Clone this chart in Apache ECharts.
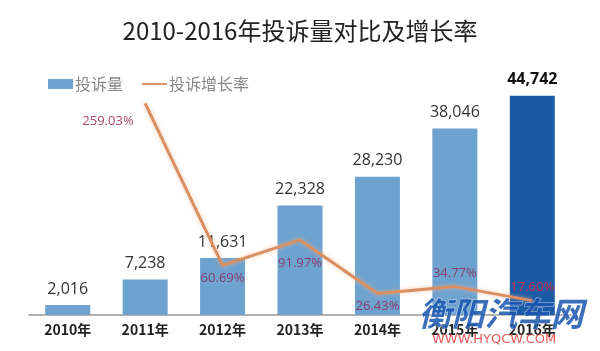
<!DOCTYPE html>
<html>
<head>
<meta charset="utf-8">
<script src="https://cdn.jsdelivr.net/npm/echarts@6/dist/echarts.min.js"></script>
<style>
  html, body { margin: 0; padding: 0; background: #fff; }
  #chart { width: 600px; height: 351px; }
</style>
</head>
<body>
<div id="chart"></div>
<script>
// data
var years = ['2010年', '2011年', '2012年', '2013年', '2014年', '2015年', '2016年']
var complaints = [2016, 7238, 11631, 22328, 28230, 38046, 44742]
var growth = [null, 259.03, 60.69, 91.97, 26.43, 34.77, 17.60]
var growthLabelPos = ['top', 'left', 'bottom', 'bottom', 'bottom', 'top', 'top']

var chart = echarts.init(document.getElementById('chart'))

var barData = complaints.map(function (v, i) {
  var last = i === complaints.length - 1
  return {
    value: v,
    itemStyle: { color: last ? '#1b5aa5' : '#6ea3d0' },
    label: last ? { fontWeight: 'bold', color: '#111' } : {}
  }
})

var lineData = growth.map(function (v, i) {
  if (v === null) return null
  var c = '#8a3d6e'
  if (i === 1) c = '#b04a6a'
  if (i === 6) c = '#c4304c'
  return {
    value: v,
    label: {
      position: growthLabelPos[i],
      distance: 6,
      color: c
    }
  }
})

chart.setOption({
  animation: false,
  title: {
    text: '2010-2016年投诉量对比及增长率',
    left: 'center',
    top: 14,
    textStyle: { fontSize: 24, fontWeight: 'normal', color: '#222', fontFamily: 'Noto Sans CJK SC' }
  },
  legend: {
    left: 43,
    top: 71,
    itemGap: 19,
    itemWidth: 25,
    itemHeight: 10,
    textStyle: { fontSize: 16, color: '#888', fontFamily: 'Noto Sans CJK SC', padding: [0, 0, 0, -3] },
    data: [
      { name: '投诉量', icon: 'rect' },
      { name: '投诉增长率', icon: 'path://M0,4L26,4L26,6L0,6Z', itemStyle: { color: '#d98f62' } }
    ]
  },
  grid: { left: 29, right: 29, top: 70, bottom: 36 },
  xAxis: {
    type: 'category',
    data: years,
    axisTick: { show: false },
    axisLine: { lineStyle: { color: '#999', width: 1.5 } },
    axisLabel: { fontSize: 14, fontWeight: 'bold', color: '#222', margin: 8, fontFamily: 'Noto Sans CJK SC' }
  },
  yAxis: [
    { type: 'value', min: 0, max: 50000, show: false },
    { type: 'value', min: 0, max: 300, show: false }
  ],
  series: [
    {
      name: '投诉量',
      type: 'bar',
      barWidth: 45,
      data: barData,
      itemStyle: { color: '#6ea3d0' },
      label: {
        show: true,
        position: 'top',
        distance: 8,
        fontSize: 16,
        color: '#333',
        fontFamily: 'Open Sans',
        formatter: function (p) { return p.value.toLocaleString('en-US') }
      }
    },
    {
      name: '投诉增长率',
      type: 'line',
      yAxisIndex: 1,
      data: lineData,
      symbol: 'circle',
      symbolSize: 1,
      showSymbol: true,
      itemStyle: { color: '#d98f62' },
      lineStyle: {
        color: '#d98f62',
        width: 3,
        shadowColor: 'rgba(240,180,140,0.7)',
        shadowBlur: 4
      },
      label: {
        show: true,
        fontSize: 13,
        fontFamily: 'Open Sans',
        formatter: function (p) { return p.value.toFixed(2) + '%' }
      },
      labelLayout: function (params) {
        if (params.dataIndex === 1) return { dx: -5, dy: 18, hideOverlap: false }
        if (params.dataIndex === 3) return { dy: 10, hideOverlap: false }
        return { hideOverlap: false }
      }
    }
  ],
  graphic: [
    {
      type: 'text',
      left: 418,
      top: 296,
      z: 100,
      style: {
        text: '衡阳汽车网',
        font: 'italic bold 33px "Noto Sans CJK SC"',
        fill: 'rgba(25,85,175,0.85)',
        stroke: 'rgba(255,255,255,0.6)',
        lineWidth: 1
      }
    },
    {
      type: 'text',
      left: 432,
      top: 333,
      z: 100,
      style: {
        text: 'WWW.HYQCW.COM',
        font: '13px "DejaVu Sans"',
        fill: 'rgba(225,60,60,0.85)'
      }
    }
  ]
})
</script>
</body>
</html>
